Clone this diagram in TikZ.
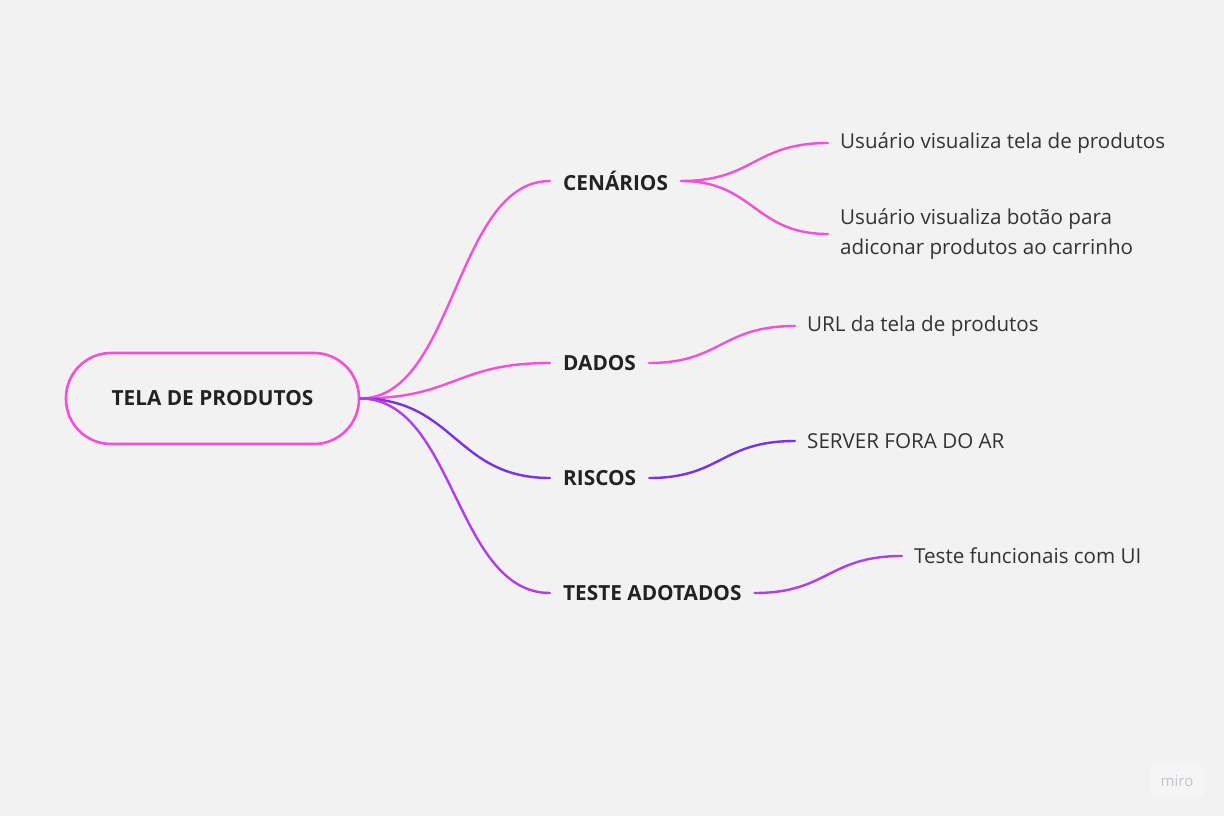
\documentclass[tikz,border=0pt]{standalone}
\usepackage{fontspec}
\setmainfont{Open Sans}
\definecolor{bg}{HTML}{F2F2F2}
\definecolor{pinkc}{HTML}{F24FDA}
\definecolor{violc}{HTML}{7B31E6}
\definecolor{purpc}{HTML}{B23EEA}
\definecolor{txtd}{HTML}{222222}
\definecolor{txtl}{HTML}{333333}
\definecolor{logoc}{HTML}{C4C4CE}
\tikzset{
  branch/.style={font=\fontsize{20.8}{25}\selectfont\bfseries, text=txtd, inner xsep=13pt, inner ysep=2pt},
  leaf/.style={font=\fontsize{20.6}{30}\selectfont, text=txtl, inner xsep=12pt, inner ysep=2pt, align=left},
  link/.style={line width=2.4pt, line cap=round},
}
\begin{document}
\begin{tikzpicture}[x=1pt,y=-1pt]
\fill[bg] (0,0) rectangle (1224,816);
\useasboundingbox (0,0) rectangle (1224,816);
% root
\node[draw=pinkc, line width=2.6pt, rounded corners=45pt, minimum width=293pt, minimum height=91pt,
  font=\fontsize{20.8}{25}\selectfont\bfseries, text=txtd] (root) at (212.5,398.5) {TELA DE PRODUTOS};
% branches
\node[branch, anchor=west] (cen) at (550,181) {CENÁRIOS};
\node[branch, anchor=west] (dad) at (550,363) {DADOS};
\node[branch, anchor=west] (ris) at (550,478) {RISCOS};
\node[branch, anchor=west] (tes) at (550,593) {TESTE ADOTADOS};
% leaves
\node[leaf, anchor=west] (l1) at (828,143) {Usuário visualiza tela de produtos};
\node[leaf, anchor=west] (l2) at (828,234) {Usuário visualiza botão para\\adiconar produtos ao carrinho};
\node[leaf, anchor=west] (l3) at (795,326) {URL da tela de produtos};
\node[leaf, anchor=west] (l4) at (795,441) {SERVER FORA DO AR};
\node[leaf, anchor=west] (l5) at (902,556) {Teste funcionais com UI};
% root links
\draw[link, pinkc] (root.east) .. controls (455,398.5) and (455,181) .. (cen.west);
\draw[link, pinkc] (root.east) .. controls (455,398.5) and (455,363) .. (dad.west);
\draw[link, violc] (root.east) .. controls (455,398.5) and (455,478) .. (ris.west);
\draw[link, purpc] (root.east) .. controls (455,398.5) and (455,593) .. (tes.west);
% leaf links
\draw[link, pinkc] (cen.east) .. controls (754,181) and (754,143) .. (l1.west);
\draw[link, pinkc] (cen.east) .. controls (754,181) and (754,234) .. (l2.west);
\draw[link, pinkc] (dad.east) .. controls (721,363) and (721,326) .. (l3.west);
\draw[link, violc] (ris.east) .. controls (721,478) and (721,441) .. (l4.west);
\draw[link, purpc] (tes.east) .. controls (828,593) and (828,556) .. (l5.west);
% logo
\node[fill=white, fill opacity=0.3, text opacity=1, rounded corners=3pt, minimum width=54pt, minimum height=32pt,
  font=\fontsize{15}{18}\selectfont, text=logoc] (logo) at (1177,781) {miro};
\end{tikzpicture}
\end{document}
